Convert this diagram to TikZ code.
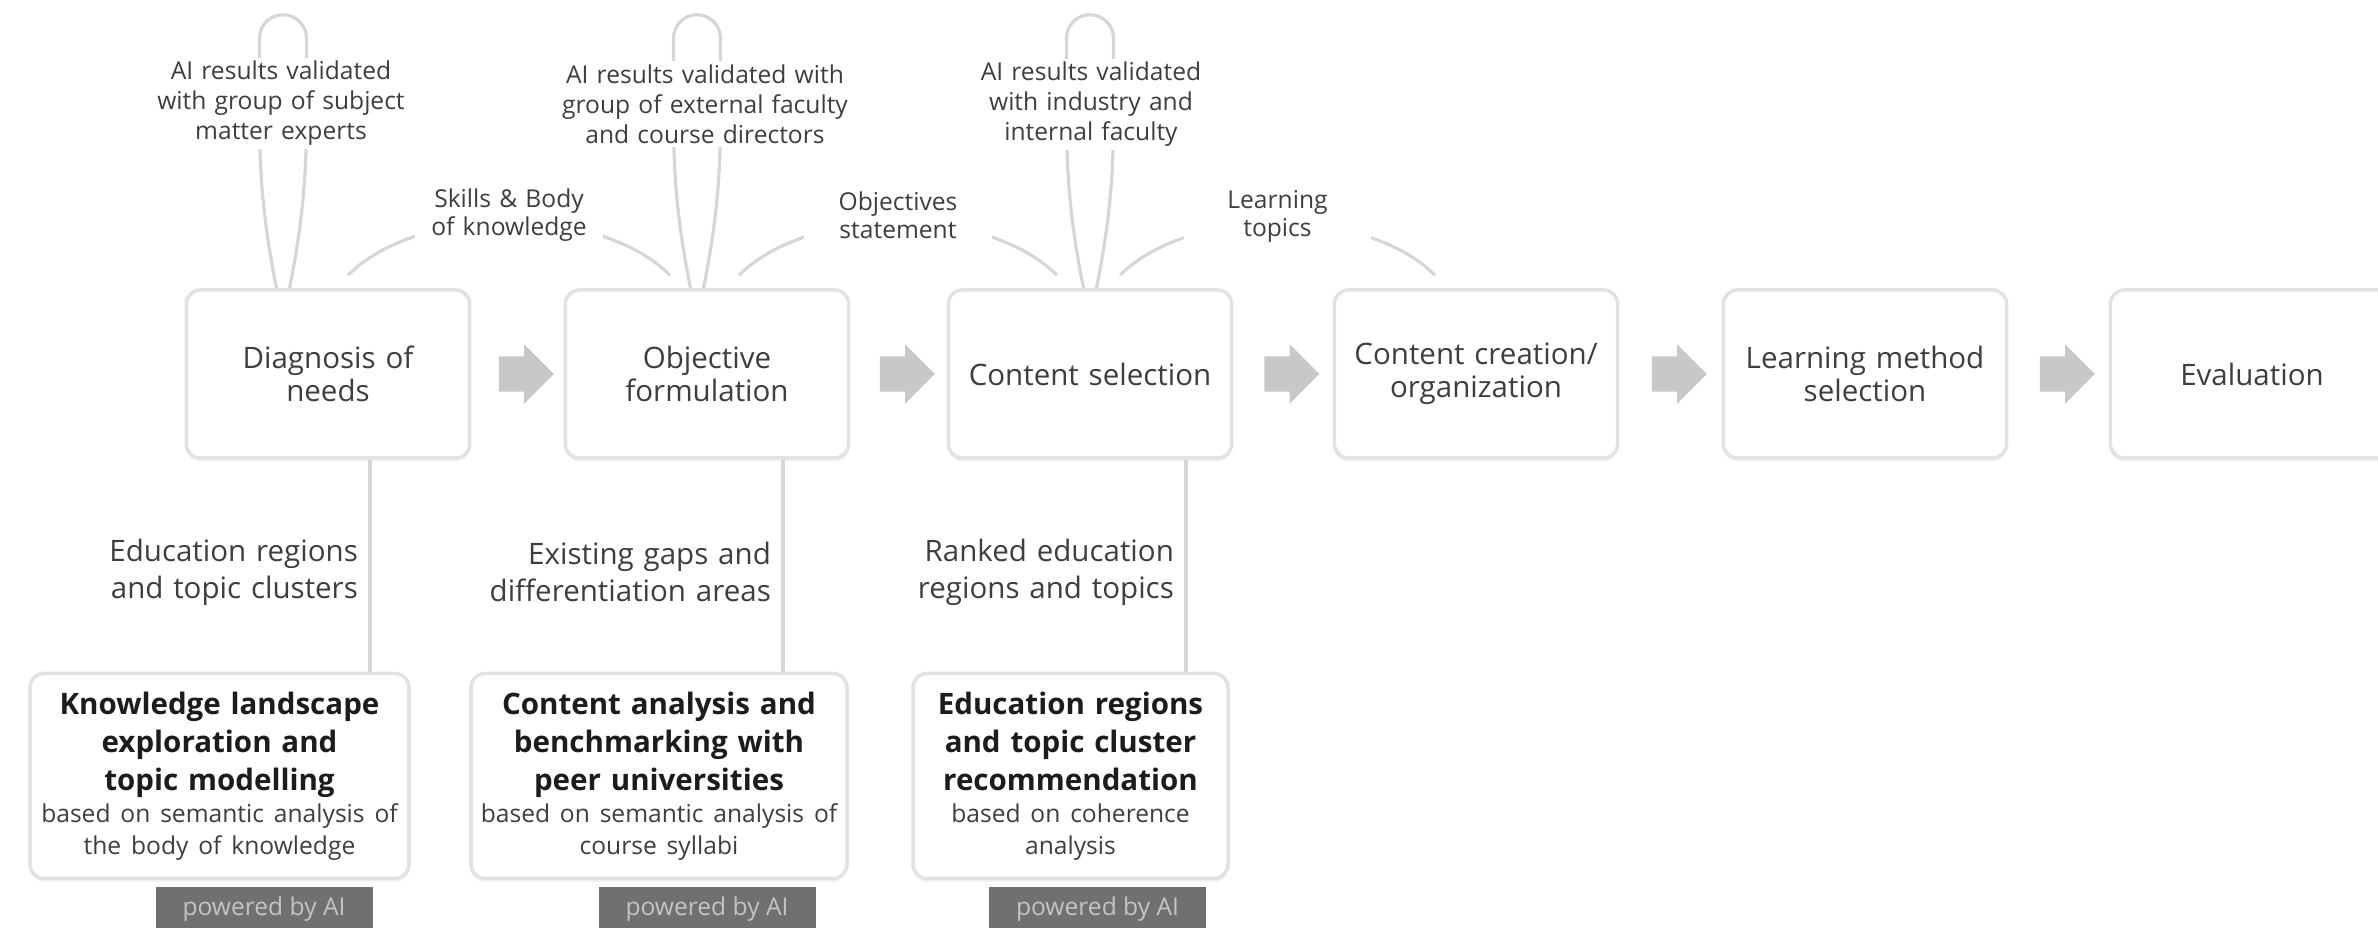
\documentclass[tikz,border=0pt]{standalone}
\usepackage{fontspec}
\setmainfont{Open Sans}
\usepackage{tikz}
\usetikzlibrary{arrows.meta,positioning,calc,shapes.arrows,shadows}
\definecolor{boxline}{RGB}{226,226,226}
\definecolor{flowgray}{RGB}{214,214,214}
\definecolor{arrowgray}{RGB}{200,200,200}
\definecolor{textgray}{RGB}{62,62,62}
\definecolor{titlegray}{RGB}{28,28,28}
\definecolor{taggray}{RGB}{112,112,112}
\definecolor{tagtext}{RGB}{196,196,196}

\tikzset{
  stepbox/.style={draw=boxline, line width=1pt, fill=white, rounded corners=4pt,
    minimum width=2.76cm, minimum height=1.68cm, text width=2.6cm, align=center,
    font=\fontsize{8.4}{9.4}\selectfont,
    drop shadow={shadow xshift=0pt, shadow yshift=-1pt, opacity=0.10}},
  aibox/.style={stepbox, minimum height=2.05cm, inner xsep=0.08cm},
  flowline/.style={draw=flowgray, line width=0.9pt},
  flowarrow/.style={single arrow, fill=arrowgray, draw=none, inner sep=0.17cm,
    single arrow head extend=0.12cm, minimum height=0.55cm},
  looplabel/.style={fill=white, inner sep=1pt, text width=2.9cm, align=center,
    font=\fontsize{7}{8.5}\selectfont},
  arclabel/.style={fill=white, inner sep=1pt, text width=1.8cm, align=center,
    font=\fontsize{7}{8}\selectfont},
  sidelabel/.style={anchor=east, xshift=-2pt, inner sep=1pt, text width=3.6cm,
    align=right, font=\fontsize{8.4}{10.4}\selectfont},
  aitag/.style={fill=taggray, text=tagtext, minimum width=2.17cm, minimum height=0.45cm,
    inner sep=0pt, font=\fontsize{7}{8}\selectfont}
}

\begin{document}
\begin{tikzpicture}[every node/.style={text=textgray}]
  \useasboundingbox (0,0) rectangle (23.78,9.28);
  \clip (0,0) rectangle (23.78,9.28);
  \def\aititle{\color{titlegray}\fontsize{8.4}{10.9}\selectfont\bfseries}
  \def\aisub{\fontsize{7}{9}\selectfont}

  % process steps
  \foreach \n/\x/\txt in {diag/3.28/{Diagnosis of\\needs}, obj/7.07/{Objective\\formulation},
      sel/10.90/{Content selection}, crea/14.76/{Content creation/\\organization},
      meth/18.65/{Learning method\\selection}, eval/22.52/{Evaluation}}
    \node[stepbox] (\n) at (\x,5.54) {\txt};

  % block arrows between steps
  \foreach \a/\b in {diag/obj, obj/sel, sel/crea, crea/meth, meth/eval}
    \path (\a) -- node[flowarrow] (go\a) {} (\b);

  % AI tools
  \node[aibox, text width=3.63cm] (know) at (2.195,1.52)
    {{\aititle Knowledge landscape\\exploration and\\topic modelling\par}
     {\aisub based on semantic analysis of\\the body of knowledge\par}};
  \node[aibox, text width=3.60cm] (bench) at (6.59,1.52)
    {{\aititle Content analysis and\\benchmarking with\\peer universities\par}
     {\aisub based on semantic analysis of\\course syllabi\par}};
  \node[aibox, text width=2.99cm] (reco) at (10.705,1.52)
    {{\aititle Education regions\\and topic cluster\\recommendation\par}
     {\aisub based on coherence\\analysis\par}};

  \node[aitag, anchor=north] (tagknow) at ($(know.south)+(0.445,-0.06)$) {powered by AI};
  \node[aitag, anchor=north] (tagbench) at ($(bench.south)+(0.48,-0.06)$) {powered by AI};
  \node[aitag, anchor=north] (tagreco) at ($(reco.south)+(0.27,-0.06)$) {powered by AI};

  % outputs of the AI tools
  \draw[flowline] ($(diag.south)+(0.42,0)$) coordinate (outdiag) -- (outdiag |- know.north)
    node[sidelabel, pos=0.53] (eduregions) {Education regions\\and topic clusters};
  \draw[flowline] ($(obj.south)+(0.76,0)$) coordinate (outobj) -- (outobj |- bench.north)
    node[sidelabel, pos=0.53] (gaps) {Existing gaps and\\differentiation areas};
  \draw[flowline] ($(sel.south)+(0.96,0)$) coordinate (outsel) -- (outsel |- reco.north)
    node[sidelabel, pos=0.53] (ranked) {Ranked education\\regions and topics};

  % validation loops
  \foreach \b/\dx in {diag/-0.45, obj/-0.10, sel/0}{
    \coordinate (lp\b) at ($(\b.north)+(\dx-0.065,0)$);
    \coordinate (rp\b) at ($(\b.north)+(\dx+0.065,0)$);
    \draw[flowline] (lp\b) .. controls +(-0.2,1.0) and +(0,-1.0) .. ++(-0.17,2.5)
      arc[start angle=180, end angle=0, radius=0.235]
      .. controls +(0,-1.0) and +(0.2,1.0) .. (rp\b);
  }
  \node[looplabel] (vdiag) at ($(diag.north)+(-0.47,1.85)$)
    {AI results validated\\with group of subject\\matter experts};
  \node[looplabel] (vobj) at ($(obj.north)+(-0.02,1.84)$)
    {AI results validated with\\group of external faculty\\and course directors};
  \node[looplabel] (vsel) at ($(sel.north)+(0.01,1.84)$)
    {AI results validated\\with industry and\\internal faculty};

  % hand-over between steps
  \draw[flowline] ($(diag.north)+(0.2,0.13)$) to[out=45, in=135, looseness=0.8]
    node[arclabel, yshift=0.07cm] (skills) {Skills \& Body\\of knowledge}
    ($(obj.north)+(-0.37,0.13)$);
  \draw[flowline] ($(obj.north)+(0.32,0.13)$) to[out=45, in=135, looseness=0.8]
    node[arclabel, yshift=0.07cm] (objstate) {Objectives\\statement}
    ($(sel.north)+(-0.33,0.13)$);
  \draw[flowline] ($(sel.north)+(0.30,0.13)$) to[out=45, in=135, looseness=0.8]
    node[arclabel, yshift=0.07cm] (topics) {Learning\\topics}
    ($(crea.north)+(-0.41,0.13)$);
\end{tikzpicture}
\end{document}
